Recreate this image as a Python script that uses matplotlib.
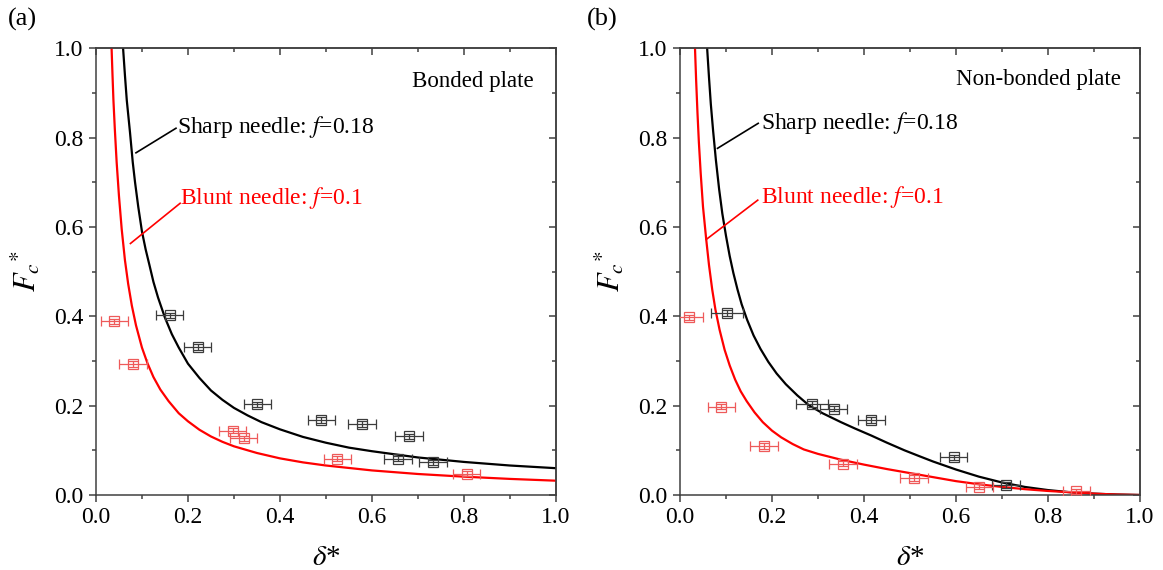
import matplotlib
matplotlib.use("Agg")
import matplotlib.pyplot as plt
from matplotlib.ticker import MultipleLocator, FormatStrFormatter

plt.rcParams['font.family'] = ['Liberation Serif', 'DejaVu Serif']
plt.rcParams['mathtext.fontset'] = 'stix'

# ---- panel (a): bonded plate ----
a_sharp_x = [0.059, 0.063, 0.067, 0.074, 0.08, 0.085, 0.092, 0.1, 0.108, 0.116, 0.125,
             0.135, 0.15, 0.165, 0.18, 0.2, 0.225, 0.25, 0.275, 0.3, 0.33, 0.36, 0.4,
             0.45, 0.5, 0.55, 0.6, 0.7, 0.8, 0.9, 1.0]
a_sharp_y = [1.0, 0.94, 0.884, 0.812, 0.745, 0.70, 0.645, 0.59, 0.55, 0.516, 0.477,
             0.442, 0.397, 0.36, 0.33, 0.294, 0.262, 0.234, 0.213, 0.195, 0.178, 0.163,
             0.147, 0.13, 0.117, 0.106, 0.098, 0.084, 0.074, 0.066, 0.06]
a_blunt_x = [0.034, 0.036, 0.038, 0.041, 0.045, 0.05, 0.056, 0.063, 0.07, 0.078, 0.087,
             0.1, 0.112, 0.125, 0.14, 0.158, 0.18, 0.2, 0.225, 0.25, 0.275, 0.3, 0.35,
             0.4, 0.45, 0.5, 0.6, 0.7, 0.8, 0.9, 1.0]
a_blunt_y = [1.0, 0.94, 0.884, 0.82, 0.745, 0.67, 0.595, 0.526, 0.473, 0.424, 0.38,
             0.33, 0.295, 0.264, 0.236, 0.21, 0.183, 0.165, 0.146, 0.131, 0.119, 0.109,
             0.094, 0.082, 0.073, 0.066, 0.055, 0.047, 0.041, 0.036, 0.032]
a_black_x = [0.16, 0.221, 0.351, 0.49, 0.578, 0.68, 0.657, 0.733]
a_black_y = [0.402, 0.331, 0.203, 0.168, 0.159, 0.131, 0.081, 0.073]
a_black_err = [0.03, 0.03, 0.03, 0.03, 0.03, 0.03, 0.03, 0.03]
a_red_x = [0.04, 0.081, 0.297, 0.321, 0.525, 0.806]
a_red_y = [0.389, 0.293, 0.144, 0.127, 0.081, 0.048]
a_red_err = [0.03, 0.03, 0.03, 0.03, 0.03, 0.03]

# ---- panel (b): non-bonded plate ----
b_sharp_x = [0.059, 0.063, 0.067, 0.072, 0.078, 0.085, 0.092, 0.1, 0.108, 0.116, 0.125,
             0.134, 0.146, 0.16, 0.175, 0.192, 0.21, 0.23, 0.255, 0.28, 0.31, 0.35, 0.38,
             0.416, 0.45, 0.488, 0.52, 0.55, 0.6, 0.65, 0.7, 0.75, 0.8, 0.85, 0.9, 0.95,
             1.0]
b_sharp_y = [1.0, 0.935, 0.875, 0.815, 0.75, 0.685, 0.63, 0.58, 0.535, 0.497, 0.46,
             0.427, 0.392, 0.357, 0.327, 0.298, 0.272, 0.248, 0.223, 0.201, 0.183, 0.163,
             0.149, 0.133, 0.117, 0.1, 0.087, 0.075, 0.057, 0.041, 0.028, 0.018, 0.011,
             0.006, 0.003, 0.001, 0.0]
b_blunt_x = [0.0326, 0.035, 0.038, 0.041, 0.045, 0.05, 0.057, 0.063, 0.07, 0.077, 0.086,
             0.097, 0.108, 0.12, 0.132, 0.145, 0.162, 0.18, 0.2, 0.22, 0.245, 0.269, 0.3,
             0.35, 0.4, 0.45, 0.5, 0.55, 0.6, 0.65, 0.7, 0.75, 0.8, 0.85, 0.9, 0.95, 1.0]
b_blunt_y = [1.0, 0.93, 0.855, 0.79, 0.72, 0.645, 0.572, 0.515, 0.46, 0.415, 0.37,
             0.325, 0.29, 0.258, 0.232, 0.21, 0.185, 0.163, 0.144, 0.129, 0.114, 0.102,
             0.092, 0.079, 0.068, 0.058, 0.049, 0.04, 0.031, 0.024, 0.018, 0.013, 0.009,
             0.006, 0.003, 0.001, 0.0]
b_black_x = [0.102, 0.287, 0.334, 0.416, 0.595, 0.709]
b_black_y = [0.407, 0.204, 0.193, 0.168, 0.084, 0.022]
b_black_err = [0.035, 0.035, 0.03, 0.03, 0.03, 0.03]
b_red_x = [0.019, 0.09, 0.183, 0.355, 0.509, 0.651, 0.862]
b_red_y = [0.398, 0.198, 0.110, 0.070, 0.038, 0.019, 0.008]
b_red_err = [0.03, 0.03, 0.03, 0.03, 0.03, 0.03, 0.03]

fig = plt.figure(figsize=(11.63, 5.70), dpi=100)
ax_a = fig.add_axes([0.0825, 0.1316, 0.3955, 0.7837])
ax_b = fig.add_axes([0.5847, 0.1316, 0.3955, 0.7837])

spine_c = '#404040'


def style_axes(ax):
    ax.set_xlim(0, 1)
    ax.set_ylim(0, 1)
    for s in ax.spines.values():
        s.set_color(spine_c)
        s.set_linewidth(1.1)
    ax.xaxis.set_major_locator(MultipleLocator(0.2))
    ax.xaxis.set_minor_locator(MultipleLocator(0.1))
    ax.yaxis.set_major_locator(MultipleLocator(0.2))
    ax.yaxis.set_minor_locator(MultipleLocator(0.1))
    ax.xaxis.set_major_formatter(FormatStrFormatter('%.1f'))
    ax.yaxis.set_major_formatter(FormatStrFormatter('%.1f'))
    ax.tick_params(which='both', direction='out', color=spine_c, width=1.1,
                   labelsize=17, top=False, right=False)
    ax.tick_params(which='major', length=5, pad=4)
    ax.tick_params(which='minor', length=3)
    # inward ticks on the top and right sides
    top = ax.secondary_xaxis('top')
    right = ax.secondary_yaxis('right')
    top.xaxis.set_major_locator(MultipleLocator(0.2))
    top.xaxis.set_minor_locator(MultipleLocator(0.1))
    right.yaxis.set_major_locator(MultipleLocator(0.2))
    right.yaxis.set_minor_locator(MultipleLocator(0.1))
    for sec in (top, right):
        sec.set_color(spine_c)
        sec.tick_params(which='both', direction='in', color=spine_c, width=1.1,
                        labeltop=False, labelright=False)
        sec.tick_params(which='major', length=5)
        sec.tick_params(which='minor', length=3)
        for s in sec.spines.values():
            s.set_linewidth(1.1)
    ax.set_xlabel(r'$\delta$*', fontsize=21, labelpad=12)
    ax.set_ylabel(r'$F_c{}^{*}$', fontsize=22, labelpad=8)


def draw_points(ax, x, y, err, color):
    ax.errorbar(x, y, xerr=err, yerr=0.006, fmt='s', ms=6.5, mfc='none', mec=color,
                mew=0.9, ecolor=color, elinewidth=0.9, capsize=3.5, capthick=0.9,
                zorder=3)


# panel (a)
ax_a.plot(a_sharp_x, a_sharp_y, color='black', lw=1.6, zorder=2)
ax_a.plot(a_blunt_x, a_blunt_y, color='red', lw=1.6, zorder=2)
draw_points(ax_a, a_black_x, a_black_y, a_black_err, '#3c3c3c')
draw_points(ax_a, a_red_x, a_red_y, a_red_err, '#ee5a5a')
style_axes(ax_a)
ax_a.plot([0.087, 0.174], [0.766, 0.821], color='black', lw=1.2)
ax_a.plot([0.075, 0.183], [0.563, 0.653], color='red', lw=1.2)
ax_a.text(0.177, 0.824, r'Sharp needle: $f$=0.18', fontsize=17, va='center', ha='left')
ax_a.text(0.183, 0.664, r'Blunt needle: $f$=0.1', fontsize=17, va='center', ha='left',
          color='red')
ax_a.text(0.952, 0.926, 'Bonded plate', fontsize=16.5, va='center', ha='right')
fig.text(0.019, 0.965, '(a)', fontsize=19, va='center', ha='center')

# panel (b)
ax_b.plot(b_sharp_x, b_sharp_y, color='black', lw=1.6, zorder=2)
ax_b.plot(b_blunt_x, b_blunt_y, color='red', lw=1.6, zorder=2)
draw_points(ax_b, b_black_x, b_black_y, b_black_err, '#3c3c3c')
draw_points(ax_b, b_red_x, b_red_y, b_red_err, '#ee5a5a')
style_axes(ax_b)
ax_b.plot([0.0815, 0.17], [0.776, 0.832], color='black', lw=1.2)
ax_b.plot([0.057, 0.169], [0.572, 0.66], color='red', lw=1.2)
ax_b.text(0.176, 0.832, r'Sharp needle: $f$=0.18', fontsize=17, va='center', ha='left')
ax_b.text(0.176, 0.668, r'Blunt needle: $f$=0.1', fontsize=17, va='center', ha='left',
          color='red')
ax_b.text(0.958, 0.929, 'Non-bonded plate', fontsize=16.5, va='center', ha='right')
fig.text(0.518, 0.965, '(b)', fontsize=19, va='center', ha='center')

fig.savefig('out.png', dpi=100)
